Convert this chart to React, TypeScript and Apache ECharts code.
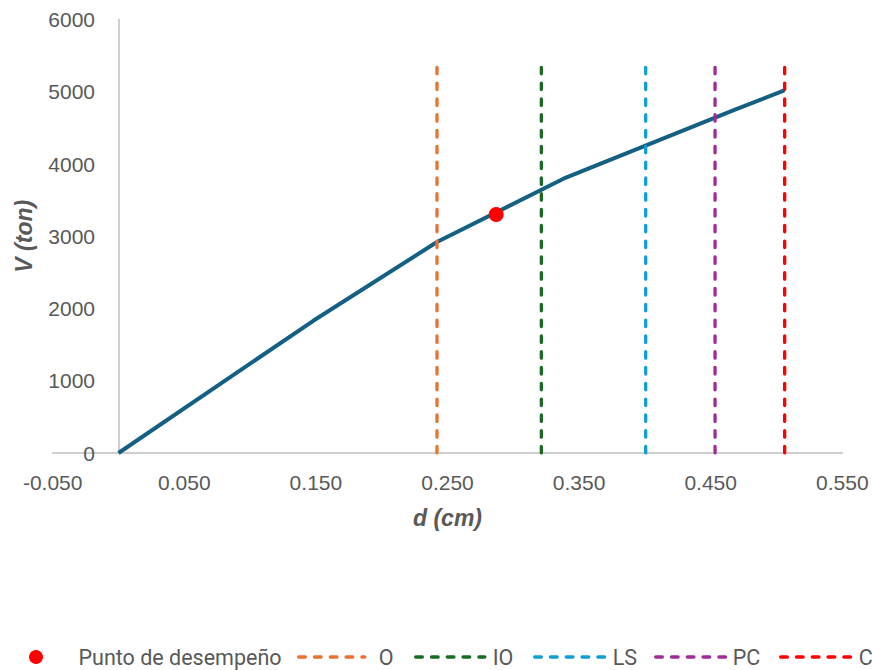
import React, { useEffect, useRef } from "react";
import * as echarts from "echarts";

// Pushover curve (d in cm, V in ton)
const curveD = [0, 0.148, 0.242, 0.34, 0.4685, 0.506];
const curveV = [0, 1830, 2920, 3812, 4752, 5018];

// Performance point
const pointD = [0.287];
const pointV = [3300];

// Performance levels (vertical dashed lines)
const levelNames = ["O", "IO", "LS", "PC", "C"];
const levelD = [0.242, 0.3213, 0.4006, 0.4533, 0.5062];
const levelTop = 5420;
const levelColors = ["#E97132", "#196B24", "#0F9ED5", "#A02B93", "#FF0000"];

const xTicks = { min: -0.05, max: 0.55, interval: 0.1 };
const yTicks = { min: 0, max: 6000, interval: 1000 };

export default function App() {
  const ref = useRef<HTMLDivElement>(null);
  useEffect(() => {
    if (!ref.current) return;
    const chart = echarts.init(ref.current, undefined, { renderer: "svg" });
    const textColor = "#595959";
    const axisColor = "#BFBFBF";
    const dash = [6.5, 9.3];
    const levelSeries = levelNames.map((name, i) => ({
      name,
      type: "line",
      data: [
        [levelD[i], 0],
        [levelD[i], levelTop],
      ],
      symbol: "none",
      lineStyle: {
        color: levelColors[i],
        width: 3.3,
        type: dash,
        cap: "round",
      },
      itemStyle: { color: levelColors[i] },
      z: 3,
    }));
    const legendText = { color: textColor, fontFamily: "Roboto", fontSize: 21.5 };
    // per-item legend placement: [left, itemWidth, extra text padding]
    const levelLegendPos = [
      [297, 66, 9],
      [414, 69, 3],
      [533, 70, 3],
      [654, 71, 1],
      [779, 70, 3],
    ];
    const legends = [
      {
        data: [{ name: "Punto de desempeño" }],
        left: 29,
        top: 646,
        padding: 0,
        itemWidth: 73,
        itemHeight: 14,
        textStyle: { ...legendText, padding: [0, 0, 0, 1] },
      },
      ...levelNames.map((n, i) => ({
        data: [{ name: n, itemStyle: { opacity: 0 } }],
        left: levelLegendPos[i][0],
        top: 646,
        padding: 0,
        itemWidth: levelLegendPos[i][1],
        itemHeight: 14,
        lineStyle: { width: 3.5, type: dash, cap: "round" },
        textStyle: { ...legendText, padding: [0, 0, 0, levelLegendPos[i][2]] },
      })),
    ];
    chart.setOption({
      animation: false,
      backgroundColor: "#ffffff",
      grid: {
        left: 52.7,
        right: 29.7,
        top: 19.5,
        bottom: 217,
        containLabel: false,
        outerBoundsMode: "none",
      },
      xAxis: {
        type: "value",
        min: xTicks.min,
        max: xTicks.max,
        interval: xTicks.interval,
        name: "d (cm)",
        nameLocation: "middle",
        nameGap: 53,
        nameTextStyle: {
          color: textColor,
          fontFamily: "Liberation Sans",
          fontSize: 23,
          fontWeight: "bold",
          fontStyle: "italic",
        },
        axisLine: { lineStyle: { color: axisColor, width: 1.5 } },
        axisTick: { show: false },
        splitLine: { show: false },
        axisLabel: {
          color: textColor,
          fontFamily: "Liberation Sans",
          fontSize: 21,
          margin: 19,
          formatter: (v: number) => v.toFixed(3),
        },
      },
      yAxis: {
        type: "value",
        min: yTicks.min,
        max: yTicks.max,
        interval: yTicks.interval,
        name: "V (ton)",
        nameLocation: "middle",
        nameGap: 17,
        nameTextStyle: {
          color: textColor,
          fontFamily: "Liberation Sans",
          fontSize: 23,
          fontWeight: "bold",
          fontStyle: "italic",
        },
        axisLine: { onZero: true, lineStyle: { color: axisColor, width: 1.5 } },
        axisTick: { show: false },
        splitLine: { show: false },
        axisLabel: {
          color: textColor,
          fontFamily: "Liberation Sans",
          fontSize: 21,
          margin: -42.3,
          formatter: (v: number) => String(Math.round(v)),
        },
      },
      legend: legends,
      series: [
        {
          name: "Curva",
          type: "line",
          data: curveD.map((d, i) => [d, curveV[i]]),
          symbol: "none",
          lineStyle: { color: "#156082", width: 4 },
          itemStyle: { color: "#156082" },
          z: 2,
        },
        {
          name: "Punto de desempeño",
          type: "scatter",
          data: pointD.map((d, i) => [d, pointV[i]]),
          symbol: "circle",
          symbolSize: 15,
          itemStyle: { color: "#FF0000", opacity: 1 },
          z: 4,
        },
        ...levelSeries,
      ],
    });
    return () => chart.dispose();
  }, []);
  return (
    <div
      ref={ref}
      style={{ position: "absolute", left: 0, top: 0, width: 872, height: 670 }}
    />
  );
}
